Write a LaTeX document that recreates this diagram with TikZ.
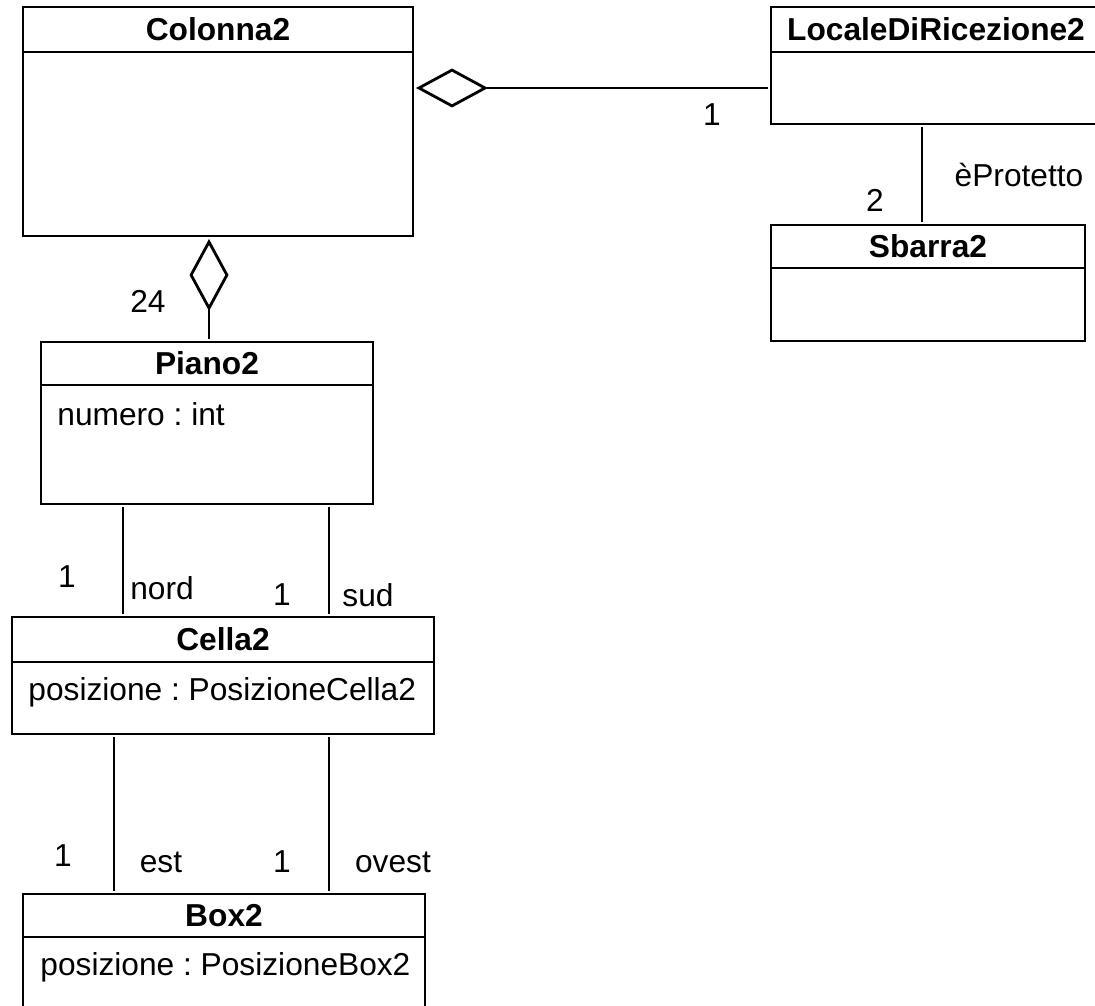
\documentclass[tikz,border=0pt]{standalone}
\usepackage{fontspec}
\setmainfont{Liberation Sans}
\usetikzlibrary{positioning,arrows.meta}
\frenchspacing

\begin{document}
\begin{tikzpicture}[x=1pt,y=-1pt,line width=2.8pt,
        every node/.style={font=\fontsize{31.7}{38}\selectfont},
        attr/.style={anchor=base west,inner sep=0pt},
        assoc/.style={shorten <=3pt,shorten >=3pt},
        aggr/.style={assoc,-{Diamond[open,length=72pt,width=39pt]}}]
    \useasboundingbox (0,0) rectangle (1095,1006);
    \begin{scope}[every node/.style={draw,rectangle,outer sep=0pt,inner sep=0pt,font=\fontsize{31.7}{38}\selectfont\bfseries}]
        \node[anchor=north west,minimum width=390,minimum height=45] (colonna) at (23,7) {Colonna2};
        \node[below=0pt of colonna,minimum width=390,minimum height=184] (colonnaB) {};
        \node[anchor=north west,minimum width=330,minimum height=45] (locale) at (771,7) {LocaleDiRicezione2};
        \node[below=0pt of locale,minimum width=330,minimum height=72] (localeB) {};
        \node[anchor=north west,minimum width=314,minimum height=43] (sbarra) at (771,225) {Sbarra2};
        \node[below=0pt of sbarra,minimum width=314,minimum height=73] (sbarraB) {};
        \node[anchor=north west,minimum width=332,minimum height=43] (piano) at (41,342) {Piano2};
        \node[below=0pt of piano,minimum width=332,minimum height=119] (pianoB) {};
        \node[anchor=north west,minimum width=422,minimum height=45] (cella) at (12,617) {Cella2};
        \node[below=0pt of cella,minimum width=422,minimum height=72] (cellaB) {};
        \node[anchor=north west,minimum width=402,minimum height=43] (box) at (23,894) {Box2};
        \node[below=0pt of box,minimum width=402,minimum height=100] (boxB) {};
    \end{scope}
    \node[attr] (pianoAttr) at ([xshift=15,yshift=-40]pianoB.north west) {numero : int};
    \node[attr] (cellaAttr) at ([xshift=15,yshift=-38]cellaB.north west) {posizione : PosizioneCella2};
    \node[attr] (boxAttr) at ([xshift=16,yshift=-38]boxB.north west) {posizione : PosizioneBox2};
    \draw (localeB.west) edge [aggr] node[pos=.165,yshift=-27]{1} (localeB.west -| colonnaB.east);
    \draw ([xshift=2]piano.north) edge [aggr] node[pos=.387,xshift=-61]{24} ([xshift=-9]colonnaB.south);
    \draw ([xshift=-14]localeB.south) edge [assoc] node[pos=.505,xshift=97]{èProtetto} node[pos=.752,xshift=-47]{2} ([xshift=-6]sbarra.north);
    \draw ([xshift=-84]pianoB.south) edge [assoc] node[pos=.646,xshift=-56]{1} node[pos=.743,xshift=39]{nord} ([xshift=-100]cella.north);
    \draw ([xshift=122]pianoB.south) edge [assoc] node[pos=.805,xshift=-47]{1} node[pos=.805,xshift=39]{sud} ([xshift=106]cella.north);
    \draw ([xshift=-109]cellaB.south) edge [assoc] node[pos=.762,xshift=-51]{1} node[pos=.8,xshift=47]{est} ([xshift=-110]box.north);
    \draw ([xshift=106]cellaB.south) edge [assoc] node[pos=.8,xshift=-47]{1} node[pos=.8,xshift=64]{ovest} ([xshift=105]box.north);
\end{tikzpicture}
\end{document}
